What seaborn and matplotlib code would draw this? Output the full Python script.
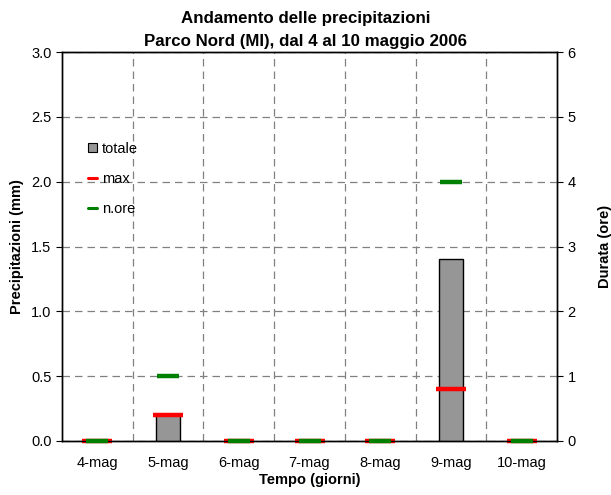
import matplotlib
matplotlib.use("Agg")
import matplotlib.pyplot as plt
import seaborn as sns
import pandas as pd
import numpy as np
from matplotlib.lines import Line2D
from matplotlib.patches import Patch

giorni = ["4-mag", "5-mag", "6-mag", "7-mag", "8-mag", "9-mag", "10-mag"]
totale = [0.0, 0.2, 0.0, 0.0, 0.0, 1.4, 0.0]
massimo = [0.0, 0.2, 0.0, 0.0, 0.0, 0.4, 0.0]
n_ore = [0, 1, 0, 0, 0, 4, 0]

sns.set_style("white")
plt.rcParams["font.family"] = ["Liberation Sans", "DejaVu Sans"]
plt.rcParams["text.color"] = "black"
plt.rcParams["axes.labelcolor"] = "black"
plt.rcParams["xtick.color"] = "black"
plt.rcParams["ytick.color"] = "black"

df = pd.DataFrame({"giorno": giorni, "totale": totale, "max": massimo, "ore": n_ore})

fig = plt.figure(figsize=(6.11, 4.95), dpi=100)
ax = fig.add_axes([62/611, 1-441/495, 495/611, 389/495])

sns.barplot(data=df, x="giorno", y="totale", color="#969696", edgecolor="black",
            linewidth=1.0, width=0.34, saturation=1, ax=ax, zorder=3)
x = np.arange(len(giorni))
ax.plot(x, df["max"], linestyle="none", marker="_", markersize=21.6, markeredgewidth=3.2,
        color="#ff0000", zorder=5, clip_on=False)

fs = 10.5
ax.set_xlim(-0.5, len(giorni) - 0.5)
ax.set_ylim(0, 3.0)
ax.set_yticks(np.arange(0, 3.01, 0.5))
ax.set_yticklabels([f"{v:.1f}" for v in np.arange(0, 3.01, 0.5)])
ax.set_xticks(x)
ax.set_xticklabels(giorni)
ax.set_xticks(np.arange(0.5, len(giorni) - 0.5, 1), minor=True)
ax.tick_params(axis="x", which="major", length=0, labelsize=fs, pad=11)
ax.tick_params(axis="x", which="minor", length=4, direction="out", width=0.8)
ax.tick_params(axis="y", length=4, direction="out", labelsize=fs, left=True)
ax.grid(False)
ax.yaxis.grid(True, linestyle=(0, (6, 4)), color="#808080", linewidth=0.9)
ax.xaxis.grid(True, which="minor", linestyle=(0, (6, 4)), color="#808080", linewidth=0.9)
ax.set_axisbelow(True)
for s in ax.spines.values():
    s.set_color("black")
    s.set_linewidth(1.0)
ax.set_xlabel("Tempo (giorni)", fontsize=fs, fontweight="bold", labelpad=2)
ax.set_ylabel("Precipitazioni (mm)", fontsize=fs, fontweight="bold", labelpad=5)

ax2 = ax.twinx()
ax2.plot(x, df["ore"], linestyle="none", marker="_", markersize=16.5, markeredgewidth=3.2,
         color="#008000", zorder=6, clip_on=False)
ax2.set_ylim(0, 6)
ax2.set_yticks(range(0, 7))
ax2.tick_params(axis="y", length=4, direction="out", labelsize=fs, right=True)
ax2.set_ylabel("Durata (ore)", fontsize=fs, fontweight="bold", labelpad=16)
ax2.grid(False)
for s in ax2.spines.values():
    s.set_color("black")
    s.set_linewidth(1.0)

fig.suptitle("Andamento delle precipitazioni\nParco Nord (MI), dal 4 al 10 maggio 2006",
             fontsize=12.2, fontweight="bold", y=1 - 11/495, va="top", linespacing=1.65)

handles = [
    Patch(facecolor="#969696", edgecolor="black", linewidth=0.8),
    Line2D([], [], color="#ff0000", linewidth=2.2),
    Line2D([], [], color="#008000", linewidth=2.2),
]
leg = ax2.legend(handles, ["totale", "max", "n.ore"], loc="upper left",
                 bbox_to_anchor=(0.027, 0.803), frameon=False, fontsize=fs,
                 handlelength=0.6, handleheight=0.6, handletextpad=0.3,
                 labelspacing=1.1)

fig.savefig("out.png", dpi=100)
